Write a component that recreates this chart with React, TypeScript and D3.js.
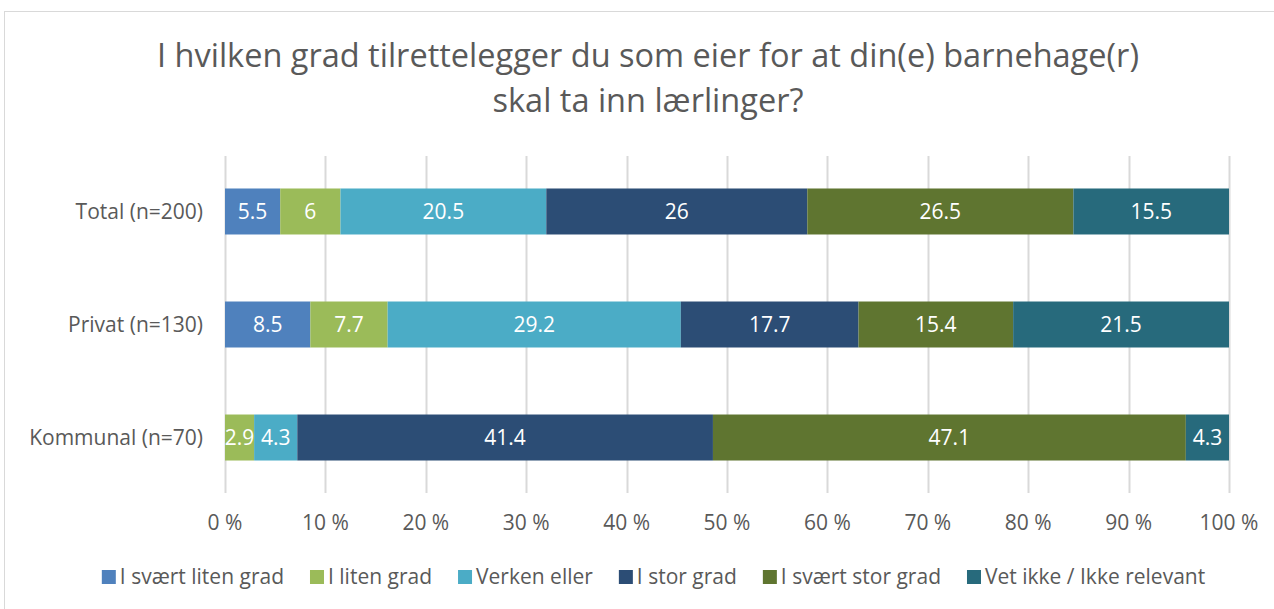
import React, { useEffect, useRef } from "react";
import * as d3 from "d3";

const WIDTH = 1274;
const HEIGHT = 609;
const MARGIN = { top: 156, left: 225, right: 45, bottom: 116 };
const FONT = "'Open Sans', sans-serif";

const titleLines = [
  "I hvilken grad tilrettelegger du som eier for at din(e) barnehage(r)",
  "skal ta inn lærlinger?"
];
const categories = ["Total (n=200)", "Privat (n=130)", "Kommunal (n=70)"];
const seriesNames = [
  "I svært liten grad",
  "I liten grad",
  "Verken eller",
  "I stor grad",
  "I svært stor grad",
  "Vet ikke / Ikke relevant"
];
const seriesColors = ["#4f81bd", "#9bbb59", "#4bacc6", "#2c4d75", "#5f7530", "#276a7c"];
const totalValues = [5.5, 6, 20.5, 26, 26.5, 15.5];
const privatValues = [8.5, 7.7, 29.2, 17.7, 15.4, 21.5];
const kommunalValues = [0, 2.9, 4.3, 41.4, 47.1, 4.3];
const tickValues = [0, 10, 20, 30, 40, 50, 60, 70, 80, 90, 100];

export default function App() {
  const ref = useRef<SVGSVGElement>(null);

  useEffect(() => {
    const svg = d3.select(ref.current);
    svg.selectAll("*").remove();

    const rows = [totalValues, privatValues, kommunalValues];

    const x = d3
      .scaleLinear()
      .domain([0, 100])
      .range([MARGIN.left, WIDTH - MARGIN.right]);
    const y = d3
      .scaleBand()
      .domain(categories)
      .range([MARGIN.top, HEIGHT - MARGIN.bottom])
      .paddingInner(0.593)
      .paddingOuter(0.2875);

    // frame
    svg
      .append("rect")
      .attr("x", 4.5)
      .attr("y", 11.5)
      .attr("width", WIDTH + 20)
      .attr("height", HEIGHT + 20)
      .attr("fill", "#fff")
      .attr("stroke", "#d9d9d9");

    // title
    svg
      .append("text")
      .attr("text-anchor", "middle")
      .attr("font-family", FONT)
      .attr("font-size", 32.5)
      .attr("fill", "#595959")
      .selectAll("tspan")
      .data(titleLines)
      .join("tspan")
      .attr("x", 648)
      .attr("y", (d, i) => 67 + i * 45)
      .text(d => d);

    // grid
    svg
      .append("g")
      .selectAll("line")
      .data(tickValues)
      .join("line")
      .attr("x1", d => Math.round(x(d)) + 0.5)
      .attr("x2", d => Math.round(x(d)) + 0.5)
      .attr("y1", MARGIN.top)
      .attr("y2", HEIGHT - MARGIN.bottom)
      .attr("stroke", "#d9d9d9")
      .attr("stroke-width", 2);

    // tick labels
    svg
      .append("g")
      .selectAll("text")
      .data(tickValues)
      .join("text")
      .attr("x", d => x(d))
      .attr("y", 530)
      .attr("text-anchor", "middle")
      .attr("font-family", FONT)
      .attr("font-size", 21)
      .attr("fill", "#595959")
      .text(d => `${d} %`);

    // category labels
    svg
      .append("g")
      .selectAll("text")
      .data(categories)
      .join("text")
      .attr("x", MARGIN.left - 22)
      .attr("y", d => (y(d) as number) + y.bandwidth() / 2)
      .attr("dy", "0.35em")
      .attr("text-anchor", "end")
      .attr("font-family", FONT)
      .attr("font-size", 21)
      .attr("fill", "#595959")
      .text(d => d);

    // bars
    categories.forEach((cat, ci) => {
      const vals = rows[ci];
      const starts = vals.map((_, i) => d3.sum(vals.slice(0, i)));
      const segs = vals.map((v, i) => ({ v, i, s: starts[i] })).filter(d => d.v > 0);
      const g = svg.append("g");
      g.selectAll("rect")
        .data(segs)
        .join("rect")
        .attr("x", d => x(d.s))
        .attr("width", d => x(d.s + d.v) - x(d.s))
        .attr("y", y(cat) as number)
        .attr("height", y.bandwidth())
        .attr("fill", d => seriesColors[d.i]);
      g.selectAll("text")
        .data(segs)
        .join("text")
        .attr("x", d => x(d.s + d.v / 2))
        .attr("y", (y(cat) as number) + y.bandwidth() / 2)
        .attr("dy", "0.35em")
        .attr("text-anchor", "middle")
        .attr("font-family", FONT)
        .attr("font-size", 21)
        .attr("fill", "#fff")
        .text(d => String(d.v));
    });

    // legend
    const legend = svg.append("g").attr("font-family", FONT).attr("font-size", 21);
    const GAP = 26;
    let cursor = 0;
    seriesNames.forEach((name, i) => {
      const item = legend.append("g");
      item
        .append("rect")
        .attr("x", 0)
        .attr("y", -7)
        .attr("width", 14)
        .attr("height", 14)
        .attr("fill", seriesColors[i]);
      const t = item
        .append("text")
        .attr("x", 18)
        .attr("dy", "0.35em")
        .attr("fill", "#595959")
        .text(name);
      const w = 18 + (t.node() as SVGTextElement).getComputedTextLength();
      item.attr("transform", `translate(${cursor},0)`);
      cursor += w + GAP;
    });
    const total = cursor - GAP;
    legend.attr("transform", `translate(${653.5 - total / 2},577)`);
  }, []);

  return (
    <div style={{ position: "absolute", left: 0, top: 0 }}>
      <svg ref={ref} width={WIDTH} height={HEIGHT} />
    </div>
  );
}
